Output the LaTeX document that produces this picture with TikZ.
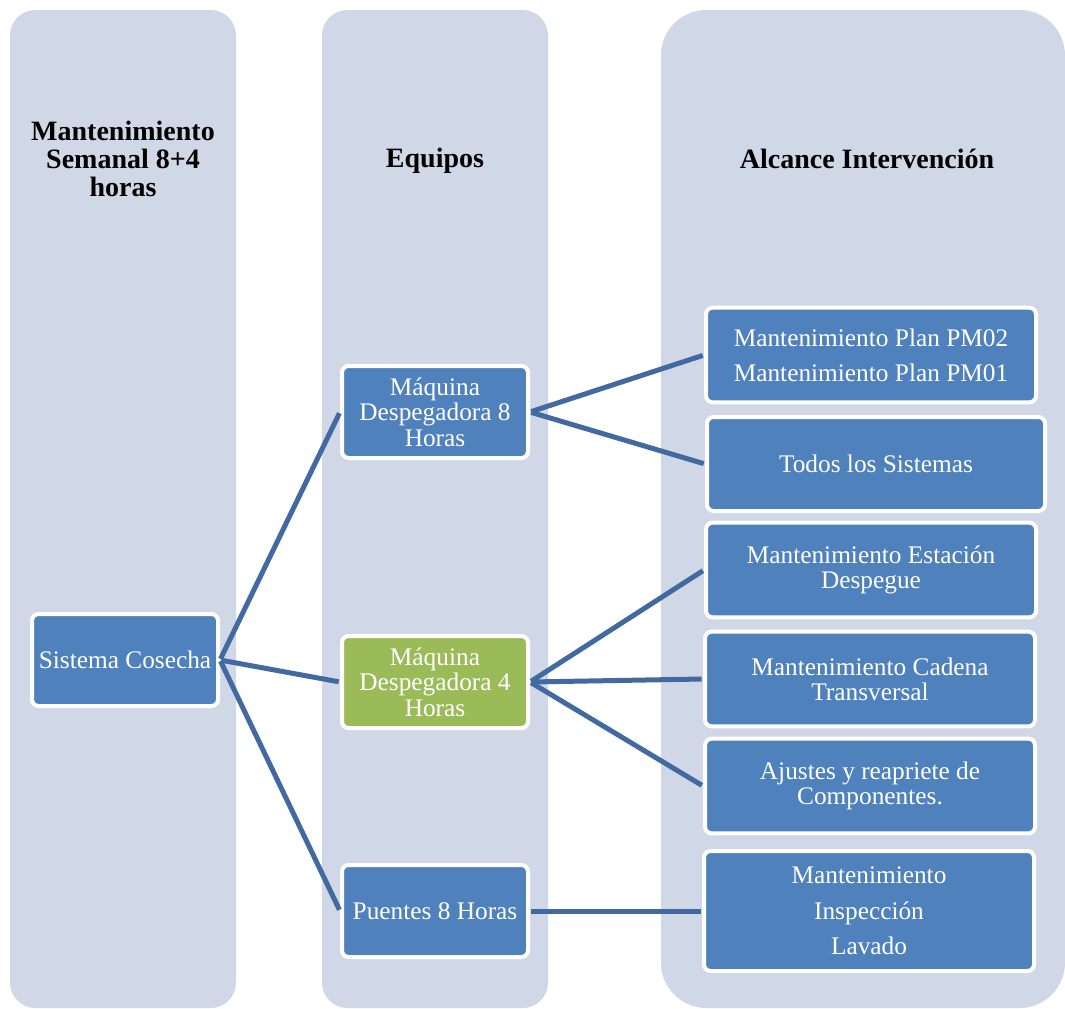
\documentclass[tikz,border=0pt]{standalone}
\usepackage{fontspec}
\setmainfont{Liberation Serif}
\definecolor{colbg}{HTML}{D0D8E8}
\definecolor{boxblue}{HTML}{4F81BD}
\definecolor{boxgreen}{HTML}{9BBB59}
\definecolor{linkblue}{HTML}{426AA0}
\begin{document}
\begin{tikzpicture}[x=0.75pt,y=-0.75pt,
	column/.style={fill=colbg,rounded corners=19pt},
	head/.style={font=\fontsize{21}{21}\selectfont\bfseries,align=center},
	round/.style={rounded corners=5pt,draw=white,line width=3pt,fill=boxblue,text=white,align=center,font=\fontsize{19}{19}\selectfont,inner sep=2pt,minimum width=139.5pt,minimum height=69pt},
	wide/.style={round,minimum width=247.5pt,minimum height=71pt},
	link/.style={draw=linkblue,line width=3.75pt,shorten >=1pt,shorten <=1pt}]

	\useasboundingbox (0,0) rectangle (1065,1008);

	% columns
	\fill[column] (10,10) rectangle (236,1008);
	\fill[column] (322,10) rectangle (548,1008);
	\fill[column,rounded corners=34pt] (661,10) rectangle (1065,1008);

	\node[head] (colcosecha) at (123,159) {Mantenimiento\\Semanal 8+4\\horas};
	\node[head] (colequipos) at (435,161) {Equipos};
	\node[head] (colalcance) at (867,159) {Alcance Intervención};

	\node[round] (cosecha) at (125,660) {Sistema Cosecha};

	\node[round] (desp8) at (435,412) {Máquina\\Despegadora 8\\Horas};
	\node[round,fill=boxgreen] (desp4) at (435,682) {Máquina\\Despegadora 4\\Horas};
	\node[round] (puentes) at (435,911) {Puentes 8 Horas};
	\path[link] (cosecha.east) edge (desp8.west)
		(cosecha.east) edge (desp4.west)
		(cosecha.east) edge (puentes.west);

	\node[wide] (plan) at (871,355) {Mantenimiento Plan PM02\\[7.5pt]Mantenimiento Plan PM01};
	\node[wide,minimum width=253.5pt,minimum height=70.5pt] (todos) at (876,464) {Todos los Sistemas};
	\path[link] (desp8.east) edge (plan.west)
		(desp8.east) edge (todos.west);

	\node[wide] (estacion) at (871,570) {Mantenimiento Estación\\Despegue};
	\node[wide] (cadena) at (870,679) {Mantenimiento Cadena\\Transversal};
	\node[wide] (ajustes) at (870,786) {Ajustes y reapriete de\\Componentes.};
	\path[link] (desp4.east) edge (estacion.west)
		(desp4.east) edge (cadena.west)
		(desp4.east) edge (ajustes.west);

	\node[wide,minimum height=90pt] (lavado) at (869,911) {Mantenimiento\\[7.5pt]Inspección\\[7.5pt]Lavado};
	\path[link] (puentes.east) edge (lavado.west);

\end{tikzpicture}
\end{document}
